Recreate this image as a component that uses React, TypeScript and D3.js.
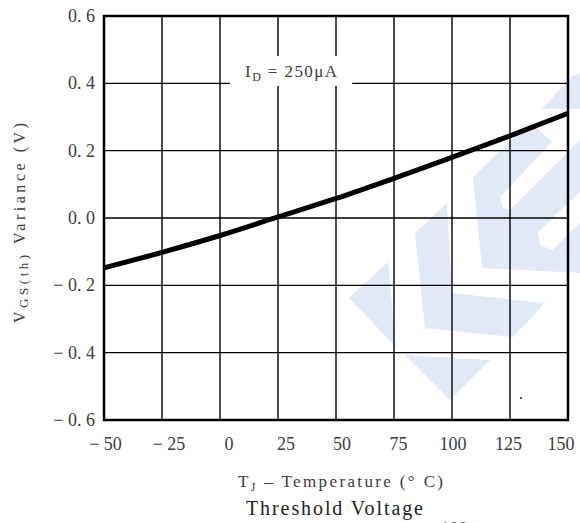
import React, { useEffect, useRef } from 'react';
import * as d3 from 'd3';

// junction temperature (°C) and threshold voltage variance (V)
const temps = [-50, -25, 0, 25, 50, 75, 100, 125, 150];
const variance = [-0.148, -0.102, -0.052, 0.003, 0.058, 0.118, 0.18, 0.244, 0.311];

const xTicks = [-50, -25, 0, 25, 50, 75, 100, 125, 150];
const yTicks = [0.6, 0.4, 0.2, 0.0, -0.2, -0.4, -0.6];

// light blue logo watermark behind the grid (page pixels)
const watermark = [
  [[349, 298], [388, 262], [396, 347]],
  [[405, 355], [490, 360], [450, 400]],
  [[415, 233], [447, 203], [452, 293], [545, 303], [513, 337], [425, 328]],
  [[473, 177], [530, 122], [552, 142], [500, 197], [503, 208], [510, 210], [580, 140], [580, 192],
   [538, 232], [540, 245], [552, 250], [580, 223], [580, 273], [482, 268]],
  [[542, 109], [572, 76], [580, 74], [580, 109]],
];

const fmtTick = (v: number, digits: number) => {
  const s = Math.abs(v).toFixed(digits).replace('.', '. ');
  return v < 0 ? '\u2212 ' + s : s;
};

// the source typesetting nudges the x labels off their gridlines
const xLabelShift = [1.5, 7, 9, 8, 6, 4.5, 1, -1.5, -7];

const App = () => {
  const svgRef = useRef<SVGSVGElement>(null);
  const svgWidth = 580;
  const svgHeight = 523;
  const margin = { top: 16, right: 12, bottom: 103, left: 104 };
  const width = svgWidth - margin.left - margin.right;
  const height = svgHeight - margin.top - margin.bottom;

  useEffect(() => {
    const svg = d3.select(svgRef.current);
    svg.selectAll('*').remove();

    const x = d3.scaleLinear().domain([-50, 150]).range([margin.left, margin.left + width]);
    const y = d3.scaleLinear().domain([-0.6, 0.6]).range([margin.top + height, margin.top]);
    const textColor = '#3c3c3c';
    const font = '"Liberation Serif", "DejaVu Serif", serif';

    svg.append('g')
      .selectAll('polygon')
      .data(watermark)
      .enter().append('polygon')
      .attr('points', d => d.map(p => p.join(',')).join(' '))
      .attr('fill', '#e2e9f6');

    // grid
    svg.append('g')
      .selectAll('line')
      .data(xTicks.slice(1, -1))
      .enter().append('line')
      .attr('x1', d => x(d)).attr('x2', d => x(d))
      .attr('y1', margin.top).attr('y2', margin.top + height)
      .attr('stroke', '#000').attr('stroke-width', 1.4);

    svg.append('g')
      .selectAll('line')
      .data(yTicks.slice(1, -1))
      .enter().append('line')
      .attr('x1', margin.left).attr('x2', margin.left + width)
      .attr('y1', d => y(d)).attr('y2', d => y(d))
      .attr('stroke', '#000').attr('stroke-width', 1.4);

    // white box behind the current label
    svg.append('rect')
      .attr('x', x(4.3)).attr('y', y(0.481))
      .attr('width', x(57) - x(4.3)).attr('height', y(0.392) - y(0.481))
      .attr('fill', '#fff');

    const label = svg.append('text')
      .attr('x', x(10.8)).attr('y', y(0.419))
      .attr('textLength', 92).attr('lengthAdjust', 'spacing')
      .attr('font-family', font).attr('font-size', 17)
      .attr('fill', textColor);
    label.append('tspan').text('I');
    label.append('tspan').attr('font-size', 12).attr('dy', 4).text('D');
    label.append('tspan').attr('dy', -4).text(' = 250\u03bcA');

    // frame
    svg.append('rect')
      .attr('x', margin.left).attr('y', margin.top)
      .attr('width', width).attr('height', height)
      .attr('fill', 'none').attr('stroke', '#000').attr('stroke-width', 2.5);

    // curve
    const line = d3.line<number>()
      .x((d, i) => x(temps[i]))
      .y(d => y(d))
      .curve(d3.curveMonotoneX);

    svg.append('path')
      .datum(variance)
      .attr('d', line)
      .attr('fill', 'none')
      .attr('stroke', '#000')
      .attr('stroke-width', 5);

    // tick labels
    svg.append('g')
      .selectAll('text')
      .data(yTicks)
      .enter().append('text')
      .attr('x', margin.left - 9)
      .attr('y', d => y(d) + 6)
      .attr('text-anchor', 'end')
      .attr('font-family', font).attr('font-size', 18)
      .attr('fill', textColor)
      .text(d => fmtTick(d, 1));

    svg.append('g')
      .selectAll('text')
      .data(xTicks)
      .enter().append('text')
      .attr('x', (d, i) => x(d) + xLabelShift[i])
      .attr('y', margin.top + height + 30)
      .attr('text-anchor', 'middle')
      .attr('font-family', font).attr('font-size', 18)
      .attr('fill', textColor)
      .text(d => fmtTick(d, 0));

    // axis titles
    const xTitle = svg.append('text')
      .attr('x', 238).attr('y', 487)
      .attr('textLength', 205).attr('lengthAdjust', 'spacing')
      .attr('font-family', font).attr('font-size', 17)
      .attr('fill', textColor);
    xTitle.append('tspan').text('T');
    xTitle.append('tspan').attr('font-size', 12).attr('dy', 4).text('J');
    xTitle.append('tspan').attr('dy', -4).text(' \u2013 Temperature (\u00b0 C)');

    const yTitle = svg.append('text')
      .attr('transform', 'translate(25,323) rotate(-90)')
      .attr('x', 0).attr('y', 0)
      .attr('textLength', 200).attr('lengthAdjust', 'spacing')
      .attr('font-family', font).attr('font-size', 16)
      .attr('fill', textColor);
    yTitle.append('tspan').text('V');
    yTitle.append('tspan').attr('font-size', 13).attr('dy', 3).text('GS(th)');
    yTitle.append('tspan').attr('dy', -3).text(' Variance (V)');

    svg.append('text')
      .attr('x', 246).attr('y', 515)
      .attr('textLength', 177).attr('lengthAdjust', 'spacing')
      .attr('font-family', font).attr('font-size', 20)
      .attr('fill', '#222')
      .text('Threshold Voltage');

    // page number cut off at the bottom edge, as on the source page
    svg.append('text')
      .attr('x', 454).attr('y', 535)
      .attr('text-anchor', 'middle')
      .attr('font-family', font).attr('font-size', 18)
      .attr('fill', textColor)
      .text('100');

    svg.append('rect')
      .attr('x', 520).attr('y', 397).attr('width', 2).attr('height', 2)
      .attr('fill', '#555');
  }, [height, width, margin.left, margin.top]);

  return (
    <svg
      ref={svgRef}
      width={svgWidth}
      height={svgHeight}
      style={{ position: 'absolute', left: 0, top: 0, background: '#fff' }}
    />
  );
};

export default App;
